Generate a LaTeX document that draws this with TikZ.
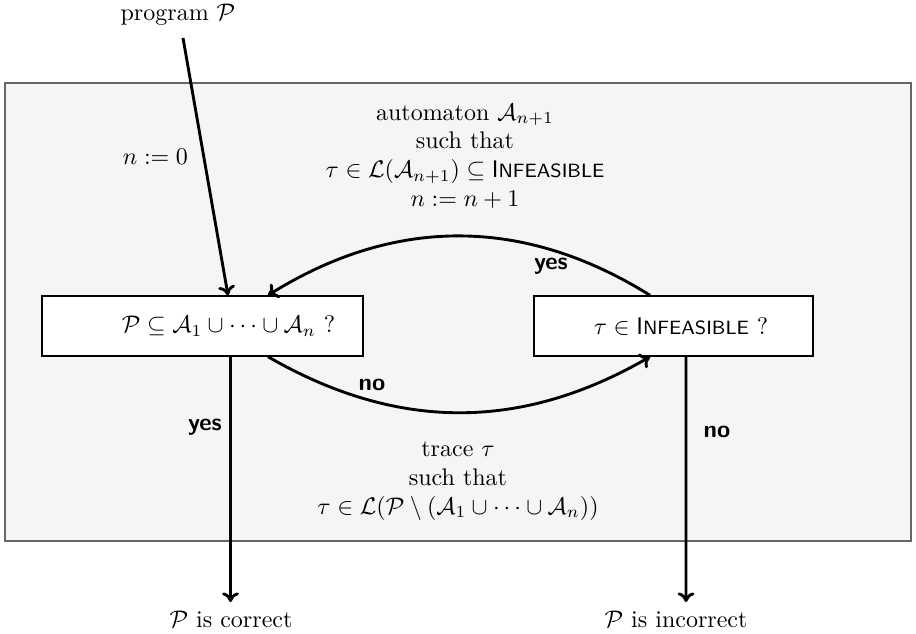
\documentclass[tikz,border=0pt]{standalone}
\usepackage{amsmath,amssymb}
\usetikzlibrary{calc,arrows.meta}
\newcommand{\infeas}{\textsf{I{\footnotesize NFEASIBLE}}}
\tikzset{
  box/.style={draw=black, line width=0.6pt, fill=white, minimum height=25pt, inner sep=0pt},
  flow/.style={line width=1.2pt, -{To[length=4pt,width=7pt]}},
  lbl/.style={font=\sffamily\bfseries},
  txt/.style={align=center, inner sep=0pt}
}
\begin{document}
\begin{tikzpicture}[x=0.4167pt, y=-0.4167pt]
\useasboundingbox (0,0) rectangle (916,633);
\draw[draw=black!60, fill=black!4, line width=0.5pt] (5,83) rectangle (911,541);

\node[box, minimum width=133.75pt] (L) at (202.5,326) {};
\node[txt] (Lt) at (228.5,326) {$\mathcal{P}\subseteq\mathcal{A}_1\cup\cdots\cup\mathcal{A}_n$ ?};
\node[box, minimum width=116.25pt] (R) at (673.5,326) {};
\node[txt] (Rt) at (681,326) {$\tau\in{}$\infeas{} ?};

\node[txt] (prog) at (178,15) {program $\mathcal{P}$};
\coordinate (pstart) at (183,38);
\draw[flow] (pstart) -- ($(L.north)+(25.5,0)$);
\node[txt] (n0) at (155.5,157) {$n:=0$};

\node[txt] (top) at (465,156) {automaton $\mathcal{A}_{n+1}$\\such that\\$\tau\in\mathcal{L}(\mathcal{A}_{n+1})\subseteq{}$\infeas\\$n:=n+1$};
\node[txt] (bot) at (458,481) {trace $\tau$\\such that\\$\tau\in\mathcal{L}(\mathcal{P}\setminus(\mathcal{A}_1\cup\cdots\cup\mathcal{A}_n))$};

\draw[flow] ($(R.north)+(-23.5,0)$) to[bend right=32] ($(L.north)+(65.5,0)$);
\draw[flow] ($(L.south)+(65.5,0)$) to[bend right=30] ($(R.south)+(-23.5,0)$);
\node[lbl] (yes1) at (551,266) {yes};
\node[lbl] (no1) at (372,385) {no};

\coordinate (cend) at (230.5,602);
\coordinate (iend) at (686,602);
\draw[flow] ($(L.south)+(28,0)$) -- (cend);
\draw[flow] ($(R.south)+(12.5,0)$) -- (iend);
\node[lbl] (yes2) at (205,427) {yes};
\node[lbl] (no2) at (717,432) {no};

\node[txt] (corr) at (231,619) {$\mathcal{P}$ is correct};
\node[txt] (incorr) at (676,619) {$\mathcal{P}$ is incorrect};
\end{tikzpicture}
\end{document}
